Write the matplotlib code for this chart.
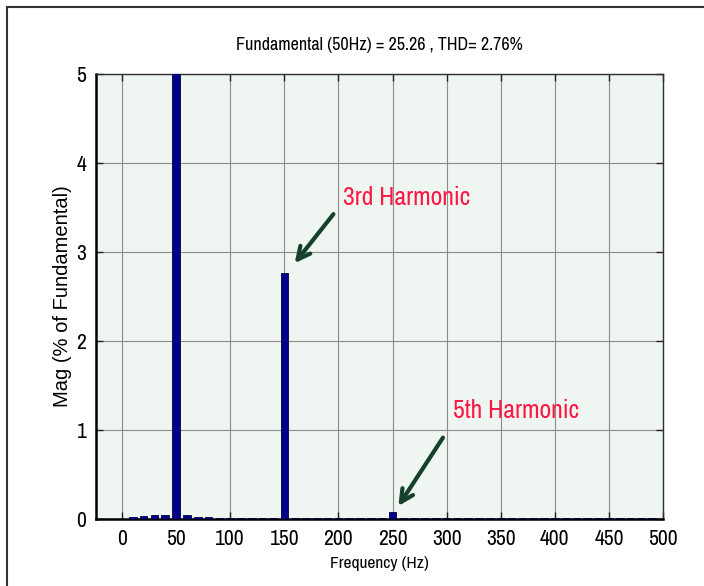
import matplotlib

matplotlib.use("Agg")
import matplotlib.pyplot as plt
import numpy as np
from matplotlib.lines import Line2D

# harmonic spectrum, 10 Hz bins, magnitude in % of fundamental
freqs_hz = np.arange(0, 510, 10)
mags = [
    0.005, 0.02, 0.03, 0.04, 0.05, 100.0, 0.04, 0.02, 0.02, 0.01,
    0.01, 0.01, 0.01, 0.01, 0.01, 2.76, 0.01, 0.01, 0.01, 0.01,
    0.01, 0.01, 0.01, 0.01, 0.01, 0.08, 0.01, 0.01, 0.01, 0.01,
    0.01, 0.01, 0.01, 0.01, 0.01, 0.01, 0.01, 0.01, 0.01, 0.01,
    0.01, 0.01, 0.01, 0.01, 0.01, 0.01, 0.01, 0.01, 0.01, 0.01,
    0.005,
]
x_ticks = [0, 50, 100, 150, 200, 250, 300, 350, 400, 450, 500]
y_ticks = [0, 1, 2, 3, 4, 5]
title = "Fundamental (50Hz) = 25.26 , THD= 2.76%"

narrow = ["Archivo Narrow", "Roboto Condensed", "Liberation Sans", "DejaVu Sans"]
plt.rcParams["font.family"] = narrow

fig = plt.figure(figsize=(7.04, 5.86), dpi=100)
ax = fig.add_axes([0.1364, 0.1143, 0.8054, 0.7594])
ax.set_facecolor("#eff5f1")

ax.bar(freqs_hz, mags, width=7, color="#00008b", edgecolor="#000040", linewidth=0.6, zorder=3)

ax.set_xlim(-24, 500)
ax.set_ylim(0, 5)
ax.set_xticks(x_ticks)
ax.set_yticks(y_ticks)
ax.tick_params(axis="both", direction="in", length=5, width=1.0, labelsize=15.5,
               top=True, right=True, pad=7, color="#202020")
ax.grid(True, color="#8c8c8c", linewidth=0.8, zorder=1)
ax.set_axisbelow(True)
for side in ["left", "bottom"]:
    ax.spines[side].set_linewidth(1.8)
for side in ["top", "right"]:
    ax.spines[side].set_linewidth(1.0)
    ax.spines[side].set_color("#303030")

ax.set_title(title, fontsize=13, pad=17)
ax.set_xlabel("Frequency (Hz)", fontsize=12.5, labelpad=5)
ax.set_ylabel("Mag (% of Fundamental)", fontsize=14.5, family="Liberation Sans", labelpad=3)

arrow_color = "#15402a"
red = "#ff1744"
ax.annotate("", xy=(158, 2.85), xytext=(197, 3.45),
            arrowprops=dict(arrowstyle="->,head_length=0.9,head_width=0.45", color=arrow_color, lw=3), zorder=4)
ax.text(204, 3.53, "3rd Harmonic", color=red, fontsize=18.5, ha="left", va="baseline", zorder=4)
ax.annotate("", xy=(254, 0.12), xytext=(298, 0.94),
            arrowprops=dict(arrowstyle="->,head_length=0.9,head_width=0.45", color=arrow_color, lw=3), zorder=4)
ax.text(306, 1.13, "5th Harmonic", color=red, fontsize=18.5, ha="left", va="baseline", zorder=4)

# page frame around the figure
fig.add_artist(Line2D([0.01, 1.0], [0.988, 0.988], color="#333333", lw=1.5))
fig.add_artist(Line2D([0.01, 0.01], [0.0, 0.988], color="#333333", lw=1.5))

fig.savefig("out.png", dpi=100)
